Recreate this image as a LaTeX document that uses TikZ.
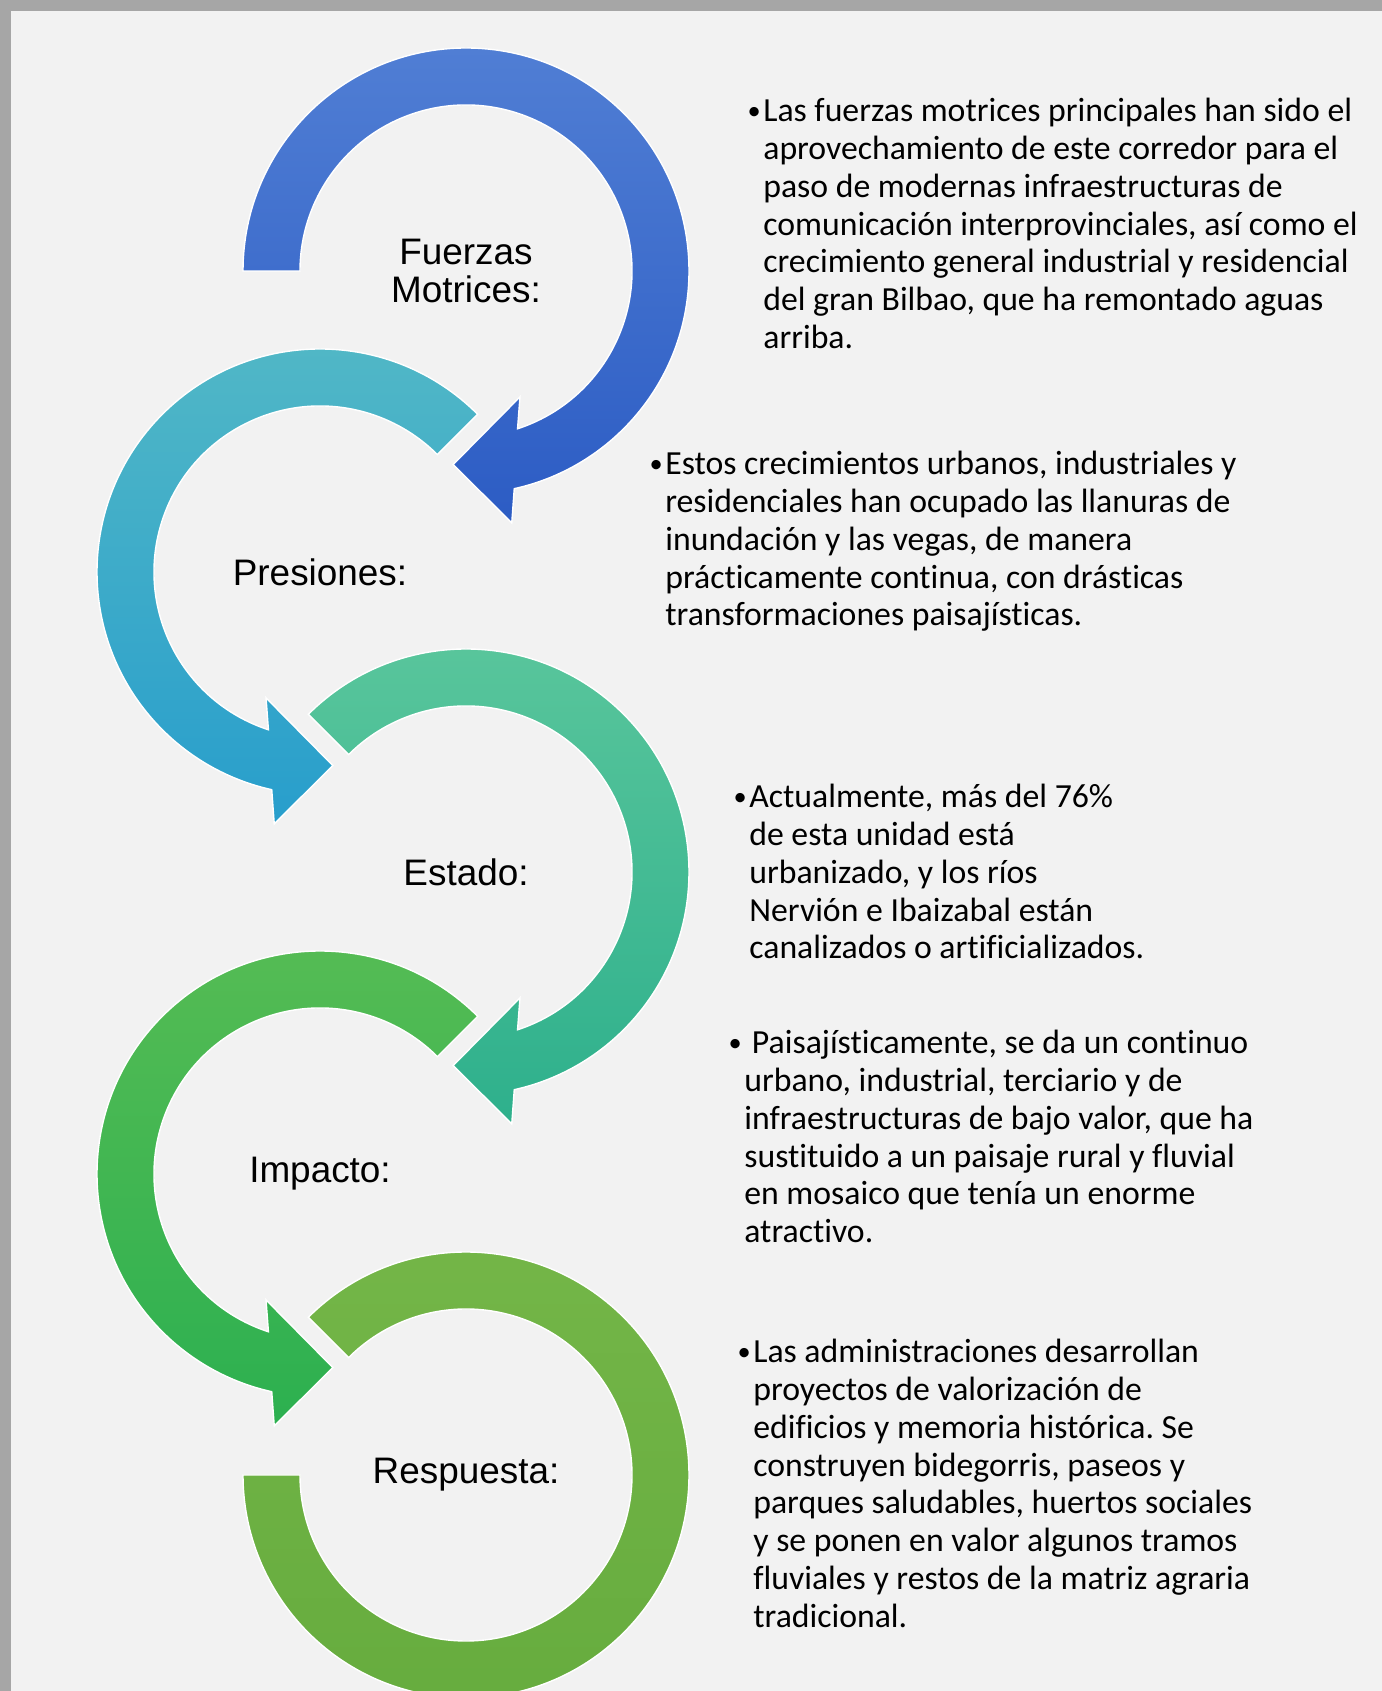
\documentclass[tikz,border=0pt]{standalone}
\usepackage{fontspec}
\setmainfont{Carlito}[Ligatures=NoCommon]
\newfontfamily\arialfont{Liberation Sans}
\frenchspacing
\definecolor{panelgray}{RGB}{242,242,242}
\definecolor{framegray}{RGB}{166,166,166}
\definecolor{blueA}{RGB}{80,126,212}
\definecolor{blueB}{RGB}{44,92,196}
\definecolor{tealA}{RGB}{82,184,198}
\definecolor{tealB}{RGB}{40,158,204}
\definecolor{mintA}{RGB}{90,198,156}
\definecolor{mintB}{RGB}{46,176,140}
\definecolor{greenA}{RGB}{86,188,84}
\definecolor{greenB}{RGB}{44,176,80}
\definecolor{leafA}{RGB}{116,182,72}
\definecolor{leafB}{RGB}{102,172,62}
\usetikzlibrary{calc, shadings}
\newcommand{\itemdot}{\llap{\raisebox{0.12ex}{\fontsize{15}{15}\selectfont\textbullet}\hspace{1.5pt}}}

\begin{document}
\begin{tikzpicture}[x=0.02cm, y=0.02cm,
  lbl/.style={font=\arialfont\fontsize{21}{22}\selectfont, align=center, inner sep=0pt},
  txt/.style={anchor=north west, inner sep=0pt, align=left, font=\fontsize{19.2}{21.5}\selectfont},
  ring/.style={draw=white, line width=0.8pt}
]
  % panel with grey frame on top and left
  \fill[framegray] (0,0) rectangle (1382,1691);
  \fill[panelgray] (11,0) rectangle (1382,1680);
  \useasboundingbox (0,0) rectangle (1382,1691);

  \coordinate (c1) at (466,1420);
  \coordinate (c2) at (320,1119);
  \coordinate (c3) at (466,819);
  \coordinate (c4) at (320,517);
  \coordinate (c5) at (466,216);

  % circular arrows
  \path[ring, top color=blueA, bottom color=blueB]
    ($(c1)+(180:223)$) arc[start angle=180, end angle=-77.5, radius=223]
    -- ($(c1)+(-79.7:256)$) -- ($(c1)+(-93.8:194)$) -- ($(c1)+(-66.8:137)$)
    -- ($(c1)+(-71.9:166)$) arc[start angle=-71.9, end angle=180, radius=166] -- cycle;

  \path[ring, top color=tealA, bottom color=tealB]
    ($(c2)+(45:223)$) arc[start angle=45, end angle=257.5, radius=223]
    -- ($(c2)+(259.7:256)$) -- ($(c2)+(273.8:194)$) -- ($(c2)+(246.8:137)$)
    -- ($(c2)+(251.9:166)$) arc[start angle=251.9, end angle=45, radius=166] -- cycle;

  \path[ring, top color=mintA, bottom color=mintB]
    ($(c3)+(135:223)$) arc[start angle=135, end angle=-77.5, radius=223]
    -- ($(c3)+(-79.7:256)$) -- ($(c3)+(-93.8:194)$) -- ($(c3)+(-66.8:137)$)
    -- ($(c3)+(-71.9:166)$) arc[start angle=-71.9, end angle=135, radius=166] -- cycle;

  \path[ring, top color=greenA, bottom color=greenB]
    ($(c4)+(45:223)$) arc[start angle=45, end angle=257.5, radius=223]
    -- ($(c4)+(259.7:256)$) -- ($(c4)+(273.8:194)$) -- ($(c4)+(246.8:137)$)
    -- ($(c4)+(251.9:166)$) arc[start angle=251.9, end angle=45, radius=166] -- cycle;

  \path[ring, top color=leafA, bottom color=leafB]
    ($(c5)+(135:223)$) arc[start angle=135, end angle=-180, radius=223]
    -- ($(c5)+(180:166)$) arc[start angle=-180, end angle=135, radius=166] -- cycle;

  % labels in the rings
  \node[lbl] (fuerzas) at (c1) {Fuerzas\\Motrices:};
  \node[lbl] (presiones) at (c2) {Presiones:};
  \node[lbl] (estado) at (c3) {Estado:};
  \node[lbl] (impacto) at (c4) {Impacto:};
  \node[lbl] (respuesta) at (c5) {Respuesta:};

  % descriptions
  \node[txt] (fuerzasTxt) at (763,1593) {\itemdot Las fuerzas motrices principales han sido el\\
    aprovechamiento de este corredor para el\\
    paso de modernas infraestructuras de\\
    comunicación interprovinciales, así como el\\
    crecimiento general industrial y residencial\\
    del gran Bilbao, que ha remontado aguas\\
    arriba.};

  \node[txt] (presionesTxt) at (665,1240) {\itemdot Estos crecimientos urbanos, industriales y\\
    residenciales han ocupado las llanuras de\\
    inundación y las vegas, de manera\\
    prácticamente continua, con drásticas\\
    transformaciones paisajísticas.};

  \node[txt] (estadoTxt) at (749,907) {\itemdot Actualmente, más del 76\%\\
    de esta unidad está\\
    urbanizado, y los ríos\\
    Nervión e Ibaizabal están\\
    canalizados o artificializados.};

  \node[txt] (impactoTxt) at (744,661) {\itemdot\ Paisajísticamente, se da un continuo\\
    urbano, industrial, terciario y de\\
    infraestructuras de bajo valor, que ha\\
    sustituido a un paisaje rural y fluvial\\
    en mosaico que tenía un enorme\\
    atractivo.};

  \node[txt] (respuestaTxt) at (753,352) {\itemdot Las administraciones desarrollan\\
    proyectos de valorización de\\
    edificios y memoria histórica. Se\\
    construyen bidegorris, paseos y\\
    parques saludables, huertos sociales\\
    y se ponen en valor algunos tramos\\
    fluviales y restos de la matriz agraria\\
    tradicional.};
\end{tikzpicture}
\end{document}
